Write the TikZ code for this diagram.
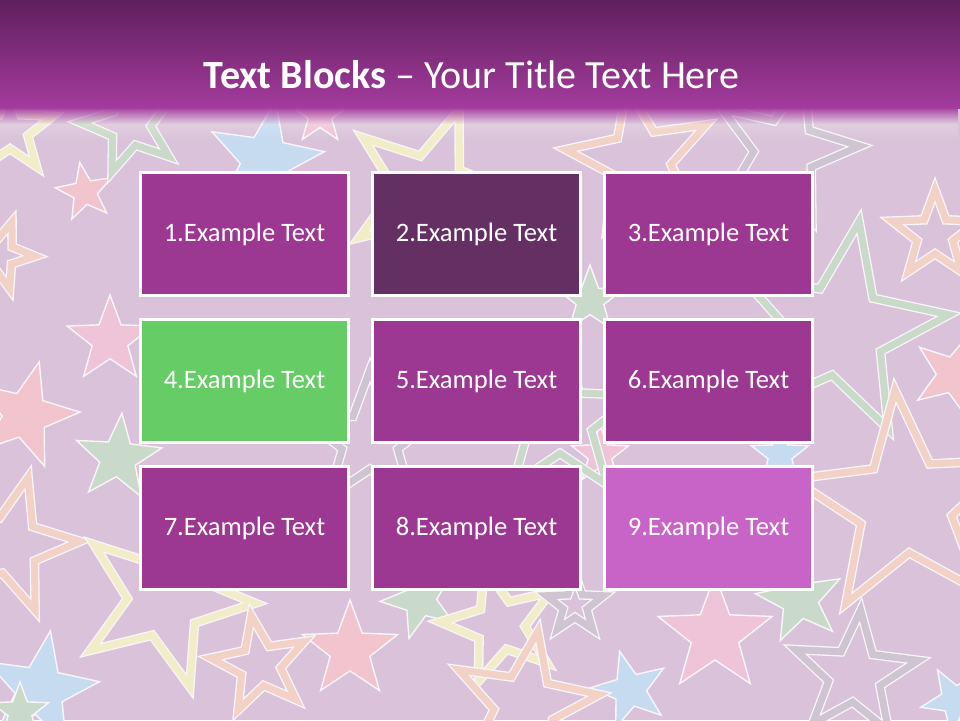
\documentclass[tikz,border=0pt]{standalone}
\usepackage{fontspec}
\setmainfont{Carlito}
\usepackage{xcolor}
\usetikzlibrary{shapes.geometric, positioning, fadings}

\definecolor{slidebg}{HTML}{DAC3DA}
\definecolor{bartop}{HTML}{5F1F5D}
\definecolor{barbot}{HTML}{A43B9D}
\definecolor{blockpurple}{HTML}{9C3892}
\definecolor{blockdark}{HTML}{643064}
\definecolor{blockgreen}{HTML}{66CC66}
\definecolor{blockorchid}{HTML}{C864C8}
\definecolor{spink}{HTML}{F0C4D8}
\definecolor{sred}{HTML}{F2C4CE}
\definecolor{sblue}{HTML}{C6DAF0}
\definecolor{sgreen}{HTML}{CADACA}
\definecolor{syellow}{HTML}{F2ECC8}
\definecolor{sorange}{HTML}{F2D2C6}
\definecolor{sgrey}{HTML}{CEC4D2}

\tikzfading[name=fadedown, top color=transparent!0, bottom color=transparent!100]

\begin{document}
\begin{tikzpicture}[
  x=1pt, y=-1pt,
  starfill/.style={star, star points=5, star point ratio=2.4, inner sep=0pt, draw=white!85!slidebg, line width=1.4pt},
  starline/.style={star, star points=5, star point ratio=2.4, inner sep=0pt, draw=white!85!slidebg, line width=1.3pt, double distance=7pt},
  textblock/.style={rectangle, draw=white, line width=3pt, minimum width=208pt, minimum height=123pt,
    font=\fontsize{26.6}{30}\selectfont, text=white, fill=blockpurple}
]
  \useasboundingbox (0,0) rectangle (960,720);
  \clip (0,0) rectangle (960,720);
  \fill[slidebg] (0,0) rectangle (960,720);

  % background stars
  \foreach \sx/\sy/\sr/\rot/\c [count=\i] in {
    265/160/60/-10/sblue, 320/115/30/0/spink, 85/192/30/10/sred, 110/340/45/0/spink,
    25/415/55/-15/sred, 118/458/45/-5/sgreen, 40/690/60/-10/sblue, 350/650/50/0/sred,
    420/600/40/20/sgreen, 630/690/40/15/sblue, 715/635/60/0/spink, 800/600/45/10/sgreen,
    955/375/45/-20/sred, 955/700/35/30/sblue, 20/712/30/0/sgreen, 590/300/35/0/sgreen,
    600/455/30/0/spink, 780/455/30/0/sblue}
    \node[starfill, fill=\c, minimum size=2*\sr, rotate=\rot] (fstar\i) at (\sx,\sy) {};
  \foreach \sx/\sy/\sr/\rot/\c [count=\i] in {
    130/125/50/15/sgreen, 430/190/85/-20/syellow, 640/160/75/10/sorange, 785/150/75/-15/sgrey,
    10/130/45/0/syellow, 0/255/35/-20/sorange, 935/235/45/0/sorange, 840/330/110/-10/sgreen,
    905/505/115/5/sorange, 10/545/70/-15/sorange, 165/600/90/-20/syellow, 260/665/50/10/sorange,
    500/625/60/15/syellow, 525/705/75/-10/sorange, 575/605/30/0/sgrey, 855/675/65/-5/sgrey,
    370/440/70/0/sgrey, 560/420/80/0/sgreen}
    \node[starline, double=\c, minimum size=2*\sr, rotate=\rot] (lstar\i) at (\sx,\sy) {};

  % title bar
  \shade[top color=bartop, bottom color=barbot] (0,0) rectangle (960,108);
  \fill[white, path fading=fadedown, opacity=0.35] (0,108) rectangle (960,140);
  \fill[barbot, path fading=fadedown] (0,107) rectangle (960,124);
  \node[text=white, font=\fontsize{40}{44}\selectfont] (title) at (471.5,75)
    {\textbf{Text Blocks} – Your Title Text Here};

  % text blocks
  \node[textblock] (b1) at (244.5,234) {1.Example Text};
  \node[textblock, fill=blockdark, right=21pt of b1] (b2) {2.Example Text};
  \node[textblock, right=21pt of b2] (b3) {3.Example Text};
  \node[textblock, fill=blockgreen, below=21pt of b1] (b4) {4.Example Text};
  \node[textblock, right=21pt of b4] (b5) {5.Example Text};
  \node[textblock, right=21pt of b5] (b6) {6.Example Text};
  \node[textblock, below=21pt of b4] (b7) {7.Example Text};
  \node[textblock, right=21pt of b7] (b8) {8.Example Text};
  \node[textblock, fill=blockorchid, right=21pt of b8] (b9) {9.Example Text};
\end{tikzpicture}
\end{document}
